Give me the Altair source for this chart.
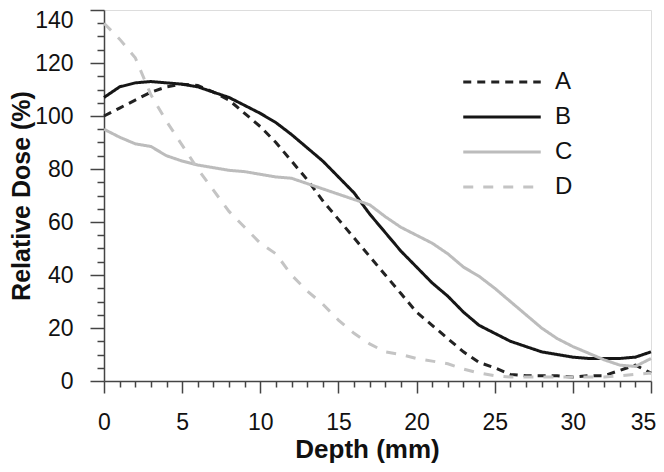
import altair as alt
import pandas as pd

depth = list(range(0, 36))
dose_a = [100, 103, 106, 109, 111, 112, 111.5, 109, 106, 101, 96, 90, 83, 76, 68, 61, 54, 47, 40, 33,
          26, 21, 16, 11, 7, 5, 2.5, 2, 2, 2, 1.5, 2, 2, 4, 6, 3]
dose_b = [107, 111, 112.5, 113, 112.5, 112, 111, 109, 107, 104, 101, 97.5, 93, 88, 83, 77, 71, 63, 56, 49,
          43, 37, 32, 26, 21, 18, 15, 13, 11, 10, 9, 8.5, 8.5, 8.5, 9, 11]
dose_c = [95, 92, 89.5, 88.5, 85, 83, 81.5, 80.5, 79.5, 79, 78, 77, 76.5, 74.5, 72.5, 70.5, 68.5, 66.5, 62, 58,
          55, 52, 48, 43, 39.5, 35, 30, 25, 20, 16, 13, 10.5, 8, 6, 5.5, 8.5]
dose_d = [135, 129, 122, 108, 98, 89, 80, 72, 64, 58, 52, 48, 40, 34, 29, 23, 18, 14, 11, 10,
          8.5, 7.5, 6.5, 4.5, 3, 2, 1.5, 1.5, 1.5, 1.5, 1.5, 1.5, 1.5, 2, 2.5, 3]

series = ["A", "B", "C", "D"]
colors = ["#222222", "#161616", "#bcbcbc", "#c4c4c4"]
dashes = [[8, 6], [1, 0], [1, 0], [10, 10]]

x_ticks = list(range(0, 36))
y_ticks = list(range(0, 141, 5))

rows = []
for name, vals in zip(series, [dose_a, dose_b, dose_c, dose_d]):
    for d, v in zip(depth, vals):
        rows.append({"Depth": d, "Dose": v, "Series": name})
df = pd.DataFrame(rows)

FONT = "Liberation Sans"

def legend():
    return alt.Legend(title=None, orient="none", legendX=381, legendY=55,
                      symbolType="M-2.5,0H2.5", symbolSize=961, symbolStrokeWidth=3,
                      labelFontSize=24, labelFont=FONT, labelColor="#111",
                      labelOffset=36, rowPadding=6, padding=0)

chart = alt.Chart(df).mark_line(strokeWidth=3, strokeCap="butt").encode(
    x=alt.X("Depth:Q",
            scale=alt.Scale(domain=[0, 35], nice=False, zero=False),
            axis=alt.Axis(
                title="Depth (mm)", values=x_ticks,
                labelExpr="datum.value % 5 === 0 ? datum.label : ''",
                tickSize={"condition": {"test": "datum.value % 5 === 0", "value": 12}, "value": 6},
                labelOffset={"condition": {"test": "datum.value === 35", "value": -8}, "value": 0},
                labelPadding=18, labelFontSize=23, labelFont=FONT, labelColor="#111",
                titleFont=FONT, titleFontSize=26, titleFontWeight="bold", titleColor="#111",
                titlePadding=2, titleX=263,
                grid=False, domainColor="#444", tickColor="#444", domainWidth=1.5, tickWidth=1.5,
                labelOverlap=False, labelFlush=False)),
    y=alt.Y("Dose:Q",
            scale=alt.Scale(domain=[0, 140], nice=False),
            axis=alt.Axis(
                title="Relative Dose (%)", values=y_ticks,
                labelExpr="datum.value % 20 === 0 ? datum.label : ''",
                tickSize={"condition": {"test": "datum.value % 20 === 0", "value": 14}, "value": 7},
                labelOffset={"condition": {"test": "datum.value === 140", "value": 10}, "value": 0},
                labelPadding=17, labelFontSize=23, labelFont=FONT, labelColor="#111",
                titleFont=FONT, titleFontSize=25, titleFontWeight="bold", titleColor="#111",
                titlePadding=0,
                grid=False, domainColor="#444", tickColor="#444", domainWidth=1.5, tickWidth=1.5,
                labelOverlap=False, labelFlush=False)),
    color=alt.Color("Series:N", scale=alt.Scale(domain=series, range=colors), legend=legend()),
    strokeDash=alt.StrokeDash("Series:N", scale=alt.Scale(domain=series, range=dashes), legend=legend()),
).properties(
    width=547, height=371,
    autosize=alt.AutoSizeParams(type="none"),
    padding={"left": 96, "top": 2, "right": 5, "bottom": 83},
).configure_view(stroke="#444", strokeWidth=1.5).configure(background="white")

chart.save("out.html", embed_options={"renderer": "svg", "actions": False})
